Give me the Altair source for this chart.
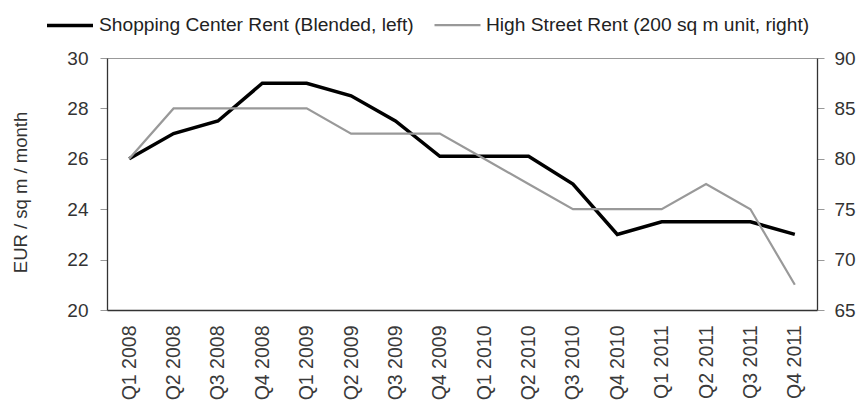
import altair as alt
import pandas as pd

quarters = ["Q1 2008", "Q2 2008", "Q3 2008", "Q4 2008",
            "Q1 2009", "Q2 2009", "Q3 2009", "Q4 2009",
            "Q1 2010", "Q2 2010", "Q3 2010", "Q4 2010",
            "Q1 2011", "Q2 2011", "Q3 2011", "Q4 2011"]
shopping = [26, 27, 27.5, 29, 29, 28.5, 27.5, 26.1, 26.1, 26.1, 25, 23, 23.5, 23.5, 23.5, 23]
high_street = [80, 85, 85, 85, 85, 82.5, 82.5, 82.5, 80, 77.5, 75, 75, 75, 77.5, 75, 67.5]

names = ["Shopping Center Rent (Blended, left)", "High Street Rent (200 sq m unit, right)"]
colors = ["#000000", "#999999"]
widths = [3.5, 2.2]
left_ticks = [20, 22, 24, 26, 28, 30]
right_ticks = [65, 70, 75, 80, 85, 90]

df = pd.DataFrame({
    "quarter": quarters * 2,
    "series": [names[0]] * len(quarters) + [names[1]] * len(quarters),
    "value": shopping + high_street,
})

FONT = "Liberation Sans"

x = alt.X("quarter:N", sort=quarters, title=None,
          axis=alt.Axis(labelAngle=-90, labelFontSize=19.5, labelColor="#3a3a3a", labelFont=FONT,
                        ticks=False, domainColor="#333", domainWidth=1.3, labelPadding=15))

legend = alt.Legend(title=None, orient="none", legendX=-62, legendY=-58, direction="horizontal",
                    symbolType="stroke", symbolSize=2116, labelFontSize=19.2, labelFont=FONT,
                    labelColor="#222", columnPadding=16, labelOffset=4, symbolStrokeWidth=3,
                    labelLimit=0)

color = alt.Color("series:N", scale=alt.Scale(domain=names, range=colors), legend=legend)
stroke_w = alt.StrokeWidth("series:N", scale=alt.Scale(domain=names, range=widths), legend=legend)

base = alt.Chart(df)

left = base.transform_filter(alt.datum.series == names[0]).mark_line().encode(
    x=x,
    y=alt.Y("value:Q", title="EUR / sq m / month",
            scale=alt.Scale(domain=[20, 30], nice=False, zero=False),
            axis=alt.Axis(values=left_ticks, orient="left", grid=False, labelFontSize=19,
                          labelColor="#333", labelFont=FONT, tickColor="#999", tickSize=7,
                          domainColor="#333", domainWidth=1.3, titleFontSize=18.5, titleFont=FONT,
                          titleColor="#333", titleFontWeight="normal", titleBaseline="middle",
                          titleX=-87, titleY=134, labelPadding=12)),
    color=color,
    strokeWidth=stroke_w,
)

right = base.transform_filter(alt.datum.series == names[1]).mark_line().encode(
    x=x,
    y=alt.Y("value:Q", title=None,
            scale=alt.Scale(domain=[65, 90], nice=False, zero=False),
            axis=alt.Axis(values=right_ticks, orient="right", grid=False, labelFontSize=19,
                          labelColor="#333", labelFont=FONT, tickColor="#999", tickSize=7,
                          domainColor="#333", domainWidth=1.3, labelPadding=10)),
    color=color,
    strokeWidth=stroke_w,
)

chart = alt.layer(left, right).resolve_scale(y="independent").properties(
    width=710, height=252,
    autosize=alt.AutoSizeParams(type="none"),
    padding={"left": 107, "top": 58, "right": 43, "bottom": 99},
    background="white",
).configure_view(stroke="#999", strokeWidth=1)

chart.save("out.html", embed_options={"renderer": "svg", "actions": False})
